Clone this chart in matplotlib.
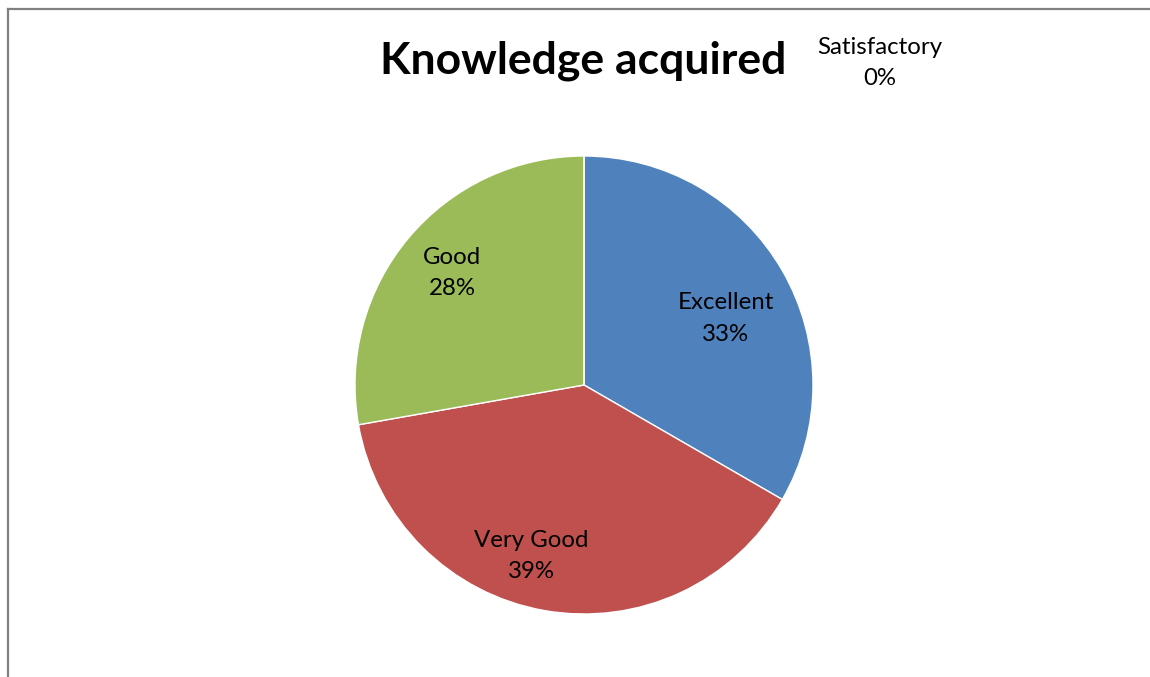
import matplotlib
matplotlib.use("Agg")
import matplotlib.pyplot as plt
from matplotlib.lines import Line2D

# data (counts giving 33 / 39 / 28 / 0 %)
categories = ["Excellent", "Very Good", "Good", "Satisfactory"]
counts = [12, 14, 10, 0]
colors = ["#4F81BD", "#C0504D", "#9BBB59", "#8064A2"]

# label placement in pie radius units (Excel "best fit" style)
label_pos = [(0.62, 0.29), (-0.23, -0.745), (-0.575, 0.49), (1.29, 1.405)]

plt.rcParams["font.family"] = ["Lato", "DejaVu Sans"]

W, H = 1150, 677
fig = plt.figure(figsize=(W / 100, H / 100), dpi=100)

# chart frame (only left and top edge visible)
fig.add_artist(Line2D([7.5 / W, 7.5 / W], [0, 1 - 8.5 / H], color="#808080", lw=1.6))
fig.add_artist(Line2D([7.5 / W, 1], [1 - 8.5 / H, 1 - 8.5 / H], color="#808080", lw=1.6))

cx, cy, r = 584, 385, 229
ax = fig.add_axes([(cx - r) / W, (H - cy - r) / H, 2 * r / W, 2 * r / H])
ax.pie(counts, colors=colors, startangle=90, counterclock=False, radius=1,
       wedgeprops=dict(edgecolor="white", linewidth=1))
ax.set_xlim(-1, 1)
ax.set_ylim(-1, 1)
ax.set_aspect("auto")
ax.axis("off")

total = sum(counts)
for name, n, (x, y) in zip(categories, counts, label_pos):
    ax.text(x, y, f"{name}\n{n / total:.0%}", ha="center", va="center",
            fontsize=17.3, linespacing=1.6, color="black", clip_on=False)

fig.text(583 / W, 1 - 61 / H, "Knowledge acquired", ha="center", va="center",
         fontsize=32, fontweight="bold")

fig.savefig("out.png", dpi=100)
